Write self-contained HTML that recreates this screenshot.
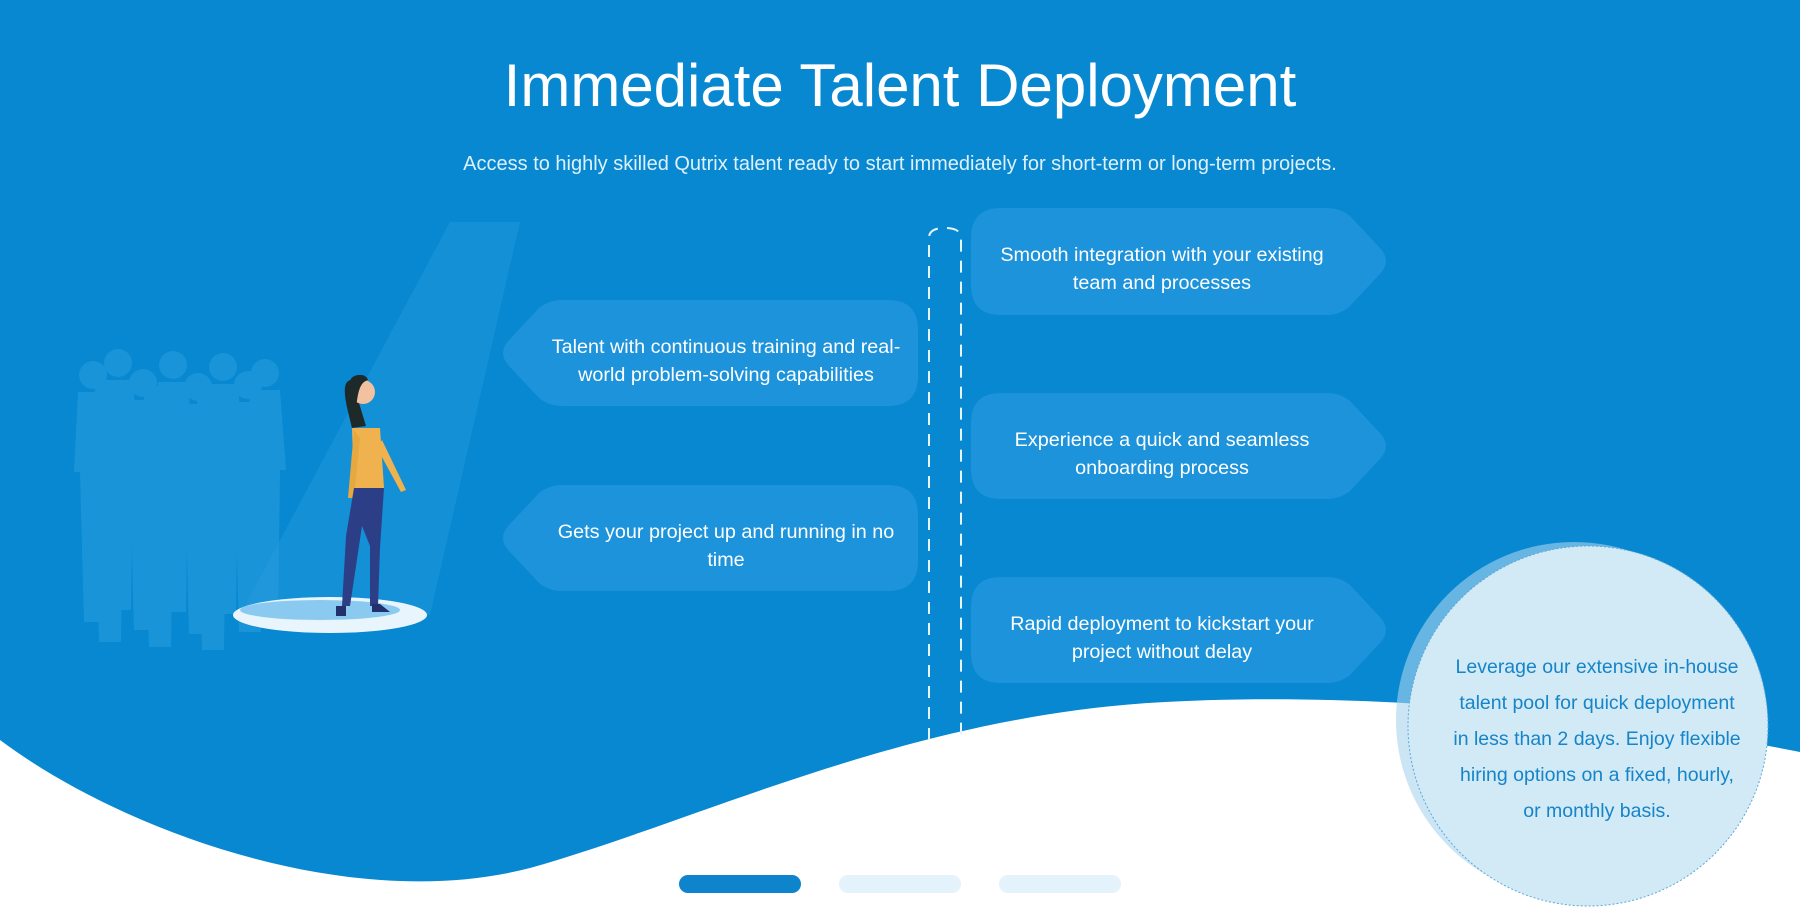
<!DOCTYPE html>
<html><head><meta charset="utf-8"><style>
html,body{margin:0;padding:0;width:1800px;height:924px;overflow:hidden;background:#fff;font-family:"Liberation Sans",sans-serif}
svg{position:absolute;left:0;top:0}
</style></head><body>
<svg width="1800" height="924" viewBox="0 0 1800 924" xmlns="http://www.w3.org/2000/svg">
<rect width="1800" height="924" fill="#fff"/>
<path d="M0,0 H1800 V752 C1600,712 1350,690 1148,703 C900,720 700,820 530,868 C350,915 120,830 0,740 Z" fill="#0788d0"/>
<!-- spotlight -->
<path d="M450,222 L520,222 L430,615 L240,615 Z" fill="#3aa8ea" opacity="0.25"/>
<!-- crowd -->
<g fill="#2a9ee0" opacity="0.55">
<g id="p"><circle cx="93" cy="375" r="14"/><path d="M78,392 h30 l6,80 l-6,0 l-2,150 h-22 l-4,-150 l-6,0 z"/></g>
<use href="#p" x="25" y="-12"/><use href="#p" x="50" y="8"/><use href="#p" x="80" y="-10"/>
<use href="#p" x="105" y="12"/><use href="#p" x="130" y="-8"/><use href="#p" x="155" y="10"/>
<use href="#p" x="172" y="-2"/><use href="#p" x="15" y="20"/><use href="#p" x="65" y="25"/><use href="#p" x="118" y="28"/>
</g>
<!-- spot -->
<ellipse cx="330" cy="615" rx="97" ry="18" fill="#e8f5fc"/>
<ellipse cx="320" cy="610" rx="80" ry="10" fill="#8bcaf0"/>
<!-- woman -->
<path d="M352,380 c-14,0 -4,30 0,48 l14,-2 z" fill="#1e2a2a"/>
<circle cx="363" cy="392" r="12" fill="#f2c1a0"/>
<path d="M350,382 c0,-8 16,-10 18,-2 c-6,2 -10,6 -12,30 l-8,-4 z" fill="#1e2a2a"/>
<path d="M352,428 h28 l4,60 h-30 z" fill="#f0b24e"/>
<path d="M354,430 l-6,68 l6,0 l6,-60 z" fill="#e8a840"/>
<path d="M382,440 l24,50 l-5,2 l-24,-44 z" fill="#f0b24e"/>
<path d="M354,488 h30 l-4,60 l-2,58 h-8 l0,-60 l-8,-20 l-12,80 h-8 l4,-70 z" fill="#2c3f86"/>
<path d="M336,606 h10 v10 h-10 z M372,604 h8 l10,8 h-18 z" fill="#22306e"/>
<!-- dashed line -->
<g stroke="#e6f4fc" stroke-width="2" fill="none" stroke-dasharray="12,9">
<path d="M929,740 V238 Q929,228 945,228 Q961,228 961,238 V740"/>
</g>
<!-- boxes -->
<g fill="#1c93da">
<path d="M1001,208 H1327 Q1340,208 1350,216 L1380,248 Q1392,261 1380,274 L1350,306 Q1340,315 1327,315 H1001 Q971,315 971,285 V238 Q971,208 1001,208 Z"/>
<path d="M1001,393 H1327 Q1340,393 1350,401 L1380,433 Q1392,446 1380,459 L1350,491 Q1340,499 1327,499 H1001 Q971,499 971,469 V423 Q971,393 1001,393 Z"/>
<path d="M1001,577 H1327 Q1340,577 1350,585 L1380,617 Q1392,630 1380,643 L1350,675 Q1340,683 1327,683 H1001 Q971,683 971,653 V607 Q971,577 1001,577 Z"/>
<path d="M888,300 H562 Q549,300 539,308 L509,340 Q497,353 509,366 L539,398 Q549,406 562,406 H888 Q918,406 918,376 V330 Q918,300 888,300 Z"/>
<path d="M888,485 H562 Q549,485 539,493 L509,525 Q497,538 509,551 L539,583 Q549,591 562,591 H888 Q918,591 918,561 V515 Q918,485 888,485 Z"/>
</g>
<g fill="#fff" font-family="Liberation Sans, sans-serif" font-size="19.8" text-anchor="middle">
<text x="1162" y="261">Smooth integration with your existing</text>
<text x="1162" y="289">team and processes</text>
<text x="1162" y="446">Experience a quick and seamless</text>
<text x="1162" y="474">onboarding process</text>
<text x="1162" y="630">Rapid deployment to kickstart your</text>
<text x="1162" y="658">project without delay</text>
<text x="726" y="353">Talent with continuous training and real-</text>
<text x="726" y="381">world problem-solving capabilities</text>
<text x="726" y="538">Gets your project up and running in no</text>
<text x="726" y="566">time</text>
</g>
<text x="900" y="106" fill="#fff" font-size="60" text-anchor="middle" font-family="Liberation Sans, sans-serif">Immediate Talent Deployment</text>
<text x="900" y="170" fill="#dff0fa" font-size="20" text-anchor="middle" font-family="Liberation Sans, sans-serif">Access to highly skilled Qutrix talent ready to start immediately for short-term or long-term projects.</text>
<!-- circle -->
<circle cx="1574" cy="720" r="178" fill="#a8d4ef" opacity="0.6"/>
<circle cx="1588" cy="726" r="180" fill="#d2e9f6" stroke="#5aa8d8" stroke-width="1" stroke-dasharray="2,2"/>
<g fill="#1685c8" font-family="Liberation Sans, sans-serif" font-size="19.5" text-anchor="middle">
<text x="1597" y="673">Leverage our extensive in-house</text>
<text x="1597" y="709">talent pool for quick deployment</text>
<text x="1597" y="745">in less than 2 days. Enjoy flexible</text>
<text x="1597" y="781">hiring options on a fixed, hourly,</text>
<text x="1597" y="817">or monthly basis.</text>
</g>
<!-- dots -->
<rect x="679" y="875" width="122" height="18" rx="9" fill="#0d84cc"/>
<rect x="839" y="875" width="122" height="18" rx="9" fill="#e4f2fb"/>
<rect x="999" y="875" width="122" height="18" rx="9" fill="#e4f2fb"/>
</svg>
</body></html>
